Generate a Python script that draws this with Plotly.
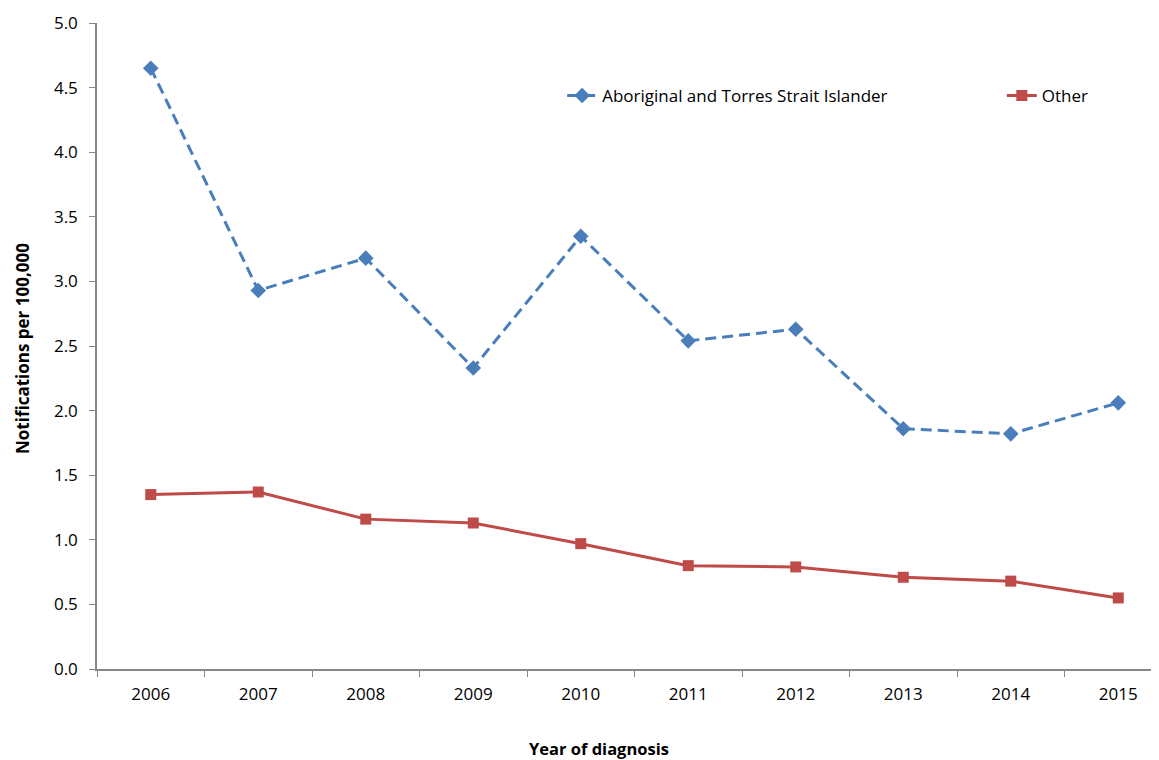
import plotly.graph_objects as go

years = ["2006", "2007", "2008", "2009", "2010", "2011", "2012", "2013", "2014", "2015"]
aboriginal = [4.65, 2.93, 3.18, 2.33, 3.35, 2.54, 2.63, 1.86, 1.82, 2.06]
other = [1.35, 1.37, 1.16, 1.13, 0.97, 0.80, 0.79, 0.71, 0.68, 0.55]
y_ticks = [0.0, 0.5, 1.0, 1.5, 2.0, 2.5, 3.0, 3.5, 4.0, 4.5, 5.0]

FONT = "Open Sans"
BLUE = "#4a7ebb"
RED = "#be4b48"
AXIS = "#868686"

# page body has an 8px margin; figure sized to fit the 1159x760 window
W, H = 1151, 752
L, T, B = 89, 15, 91
PW = W - L
PH = H - T - B

fig = go.Figure()
fig.add_trace(go.Scatter(
    x=years, y=aboriginal, name="Aboriginal and Torres Strait Islander",
    mode="lines+markers",
    line=dict(color=BLUE, width=3, dash="11px,6px"),
    marker=dict(symbol="diamond", size=12, color=BLUE),
    legend="legend",
))
fig.add_trace(go.Scatter(
    x=years, y=other, name="Other",
    mode="lines+markers",
    line=dict(color=RED, width=3),
    marker=dict(symbol="square", size=11, color=RED),
    legend="legend2",
))

fig.update_layout(
    width=W, height=H,
    margin=dict(l=L, r=0, t=T, b=B),
    paper_bgcolor="white", plot_bgcolor="white",
    font=dict(family=FONT, size=17, color="black"),
    showlegend=True,
    legend=dict(x=0.438, y=0.887, xanchor="left", yanchor="middle",
                orientation="h", bgcolor="rgba(0,0,0,0)",
                font=dict(family=FONT, size=17)),
    legend2=dict(x=0.852, y=0.887, xanchor="left", yanchor="middle",
                 orientation="h", bgcolor="rgba(0,0,0,0)",
                 font=dict(family=FONT, size=17)),
    xaxis=dict(
        type="category", range=[-0.5, 9.379],
        showline=True, linecolor=AXIS, linewidth=1.5,
        ticks="outside", tickson="boundaries", ticklen=6, tickcolor=AXIS,
        showgrid=False, zeroline=False, ticklabelstandoff=9,
        tickfont=dict(family=FONT, size=17),
    ),
    yaxis=dict(
        range=[0, 5.0], tickvals=y_ticks, tickformat=".1f",
        showline=True, linecolor=AXIS, linewidth=1.5,
        ticks="outside", ticklen=6, tickcolor=AXIS,
        showgrid=False, zeroline=False, ticklabelstandoff=8,
        tickfont=dict(family=FONT, size=17),
    ),
    annotations=[
        dict(text="<b>Year of diagnosis</b>", xref="paper", yref="paper",
             x=(599 - 8 - L) / PW, y=-(748 - 8 - (T + PH)) / PH,
             xanchor="center", yanchor="middle",
             showarrow=False, font=dict(family=FONT, size=16.5)),
        dict(text="<b>Notifications per 100,000</b>", xref="paper", yref="paper",
             x=-(L - (22 - 8)) / PW, y=(T + PH - (349 - 8)) / PH,
             xanchor="center", yanchor="middle",
             textangle=-90, showarrow=False, font=dict(family=FONT, size=17)),
    ],
)

fig.write_html("out.html")
